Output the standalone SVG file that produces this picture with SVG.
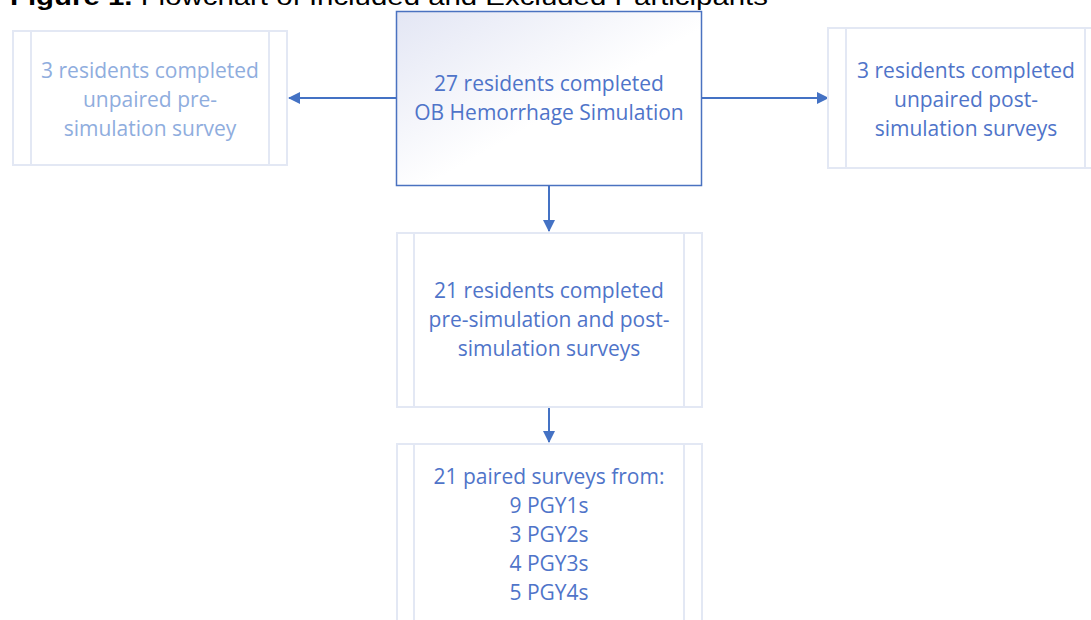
<svg xmlns="http://www.w3.org/2000/svg" width="1091" height="620" viewBox="0 0 1091 620">
  <defs>
    <linearGradient id="g1" x1="0" y1="0" x2="1" y2="1">
      <stop offset="0" stop-color="#e3e6f4"/>
      <stop offset="0.55" stop-color="#ffffff"/>
    </linearGradient>
    <marker id="ah" markerWidth="12" markerHeight="12" refX="11" refY="6" orient="auto" markerUnits="userSpaceOnUse">
      <path d="M0,0 L12,6 L0,12 z" fill="#4472c4"/>
    </marker>
  </defs>
  <style>
    .box{fill:#ffffff;stroke:#e3e8f4;stroke-width:2}
    .inner{stroke:#e3e8f4;stroke-width:2}
    .main{fill:url(#g1);stroke:#4a72c0;stroke-width:1.5}
    .t{font-family:"Open Sans","Noto Sans",sans-serif;font-size:21px;text-anchor:middle;fill:#4f74c9}
    .pale{fill:#8fadde}
    .conn{stroke:#4472c4;stroke-width:2;fill:none;marker-end:url(#ah)}
    .title{font-family:"Liberation Sans",Arial,sans-serif;font-size:24px;fill:#000}
  </style>
  <rect width="1091" height="620" fill="#ffffff"/>
  <text class="title" x="10" y="5" textLength="758" lengthAdjust="spacingAndGlyphs"><tspan font-weight="bold">Figure 1.</tspan> Flowchart of Included and Excluded Participants</text>

  <g id="connectors">
    <line class="conn" x1="396" y1="98" x2="289" y2="98"/>
    <line class="conn" x1="702" y1="98" x2="828" y2="98"/>
    <line class="conn" x1="549" y1="185" x2="549" y2="231"/>
    <line class="conn" x1="549" y1="407" x2="549" y2="442"/>
  </g>

  <g id="node-pre">
    <rect class="box" x="13" y="31" width="274" height="134"/>
    <line class="inner" x1="31" y1="31" x2="31" y2="165"/>
    <line class="inner" x1="269" y1="31" x2="269" y2="165"/>
    <text class="t pale" x="150" y="78">3 residents completed</text>
    <text class="t pale" x="150" y="107">unpaired pre-</text>
    <text class="t pale" x="150" y="136">simulation survey</text>
  </g>

  <g id="node-main">
    <rect class="main" x="396.5" y="11.5" width="305" height="174"/>
    <text class="t" x="549" y="91">27 residents completed</text>
    <text class="t" x="549" y="120">OB Hemorrhage Simulation</text>
  </g>

  <g id="node-post">
    <rect class="box" x="828" y="28" width="274" height="140"/>
    <line class="inner" x1="846" y1="28" x2="846" y2="168"/>
    <line class="inner" x1="1085" y1="28" x2="1085" y2="168"/>
    <text class="t" x="966" y="78">3 residents completed</text>
    <text class="t" x="966" y="107">unpaired post-</text>
    <text class="t" x="966" y="136">simulation surveys</text>
  </g>

  <g id="node-paired">
    <rect class="box" x="397" y="233" width="305" height="174"/>
    <line class="inner" x1="414" y1="233" x2="414" y2="407"/>
    <line class="inner" x1="684" y1="233" x2="684" y2="407"/>
    <text class="t" x="549" y="298">21 residents completed</text>
    <text class="t" x="549" y="327">pre-simulation and post-</text>
    <text class="t" x="549" y="356">simulation surveys</text>
  </g>

  <g id="node-final">
    <rect class="box" x="397" y="444" width="305" height="190"/>
    <line class="inner" x1="414" y1="444" x2="414" y2="620"/>
    <line class="inner" x1="684" y1="444" x2="684" y2="620"/>
    <text class="t" x="549" y="484">21 paired surveys from:</text>
    <text class="t" x="549" y="513">9 PGY1s</text>
    <text class="t" x="549" y="542">3 PGY2s</text>
    <text class="t" x="549" y="571">4 PGY3s</text>
    <text class="t" x="549" y="600">5 PGY4s</text>
  </g>
</svg>
